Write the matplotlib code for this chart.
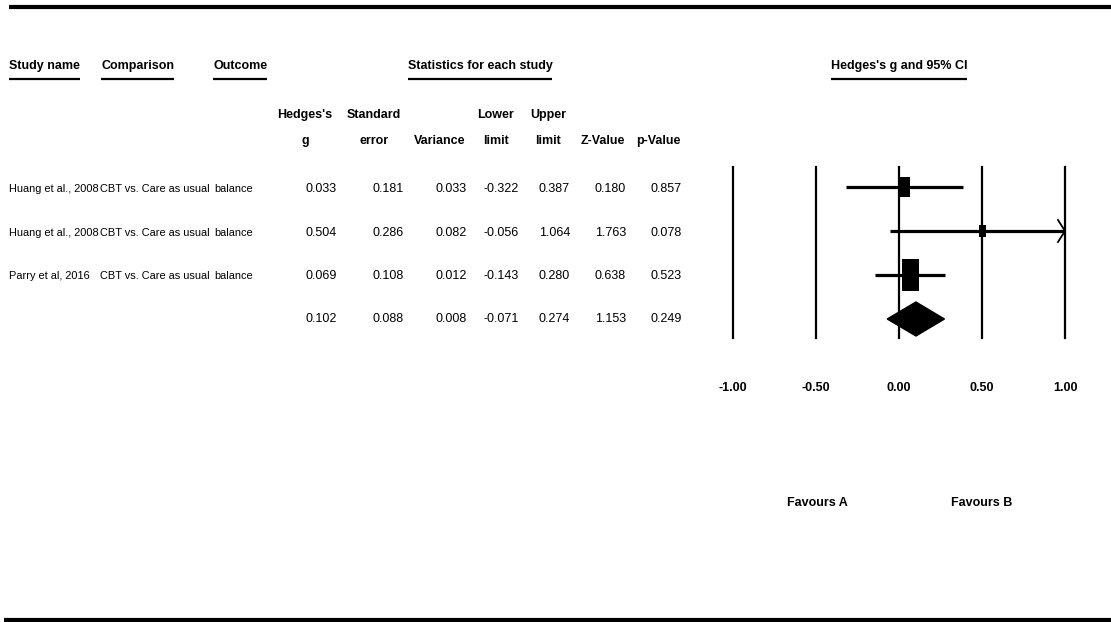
import matplotlib
matplotlib.use("Agg")
import matplotlib.pyplot as plt
from matplotlib import font_manager
from matplotlib.patches import Rectangle, Polygon
import numpy as np

# ---------------- data ----------------
study_names = ["Huang et al., 2008", "Huang et al., 2008", "Parry et al, 2016", ""]
comparisons = ["CBT vs. Care as usual", "CBT vs. Care as usual", "CBT vs. Care as usual", ""]
outcomes = ["balance", "balance", "balance", ""]
hedges_g = [0.033, 0.504, 0.069, 0.102]
std_err = [0.181, 0.286, 0.108, 0.088]
variance = [0.033, 0.082, 0.012, 0.008]
lower = [-0.322, -0.056, -0.143, -0.071]
upper = [0.387, 1.064, 0.280, 0.274]
z_value = [0.180, 1.763, 0.638, 1.153]
p_value = [0.857, 0.078, 0.523, 0.249]
x_ticks = [-1.0, -0.5, 0.0, 0.5, 1.0]
x_tick_labels = ["-1.00", "-0.50", "0.00", "0.50", "1.00"]
favours = ["Favours A", "Favours B"]

# ---------------- font ----------------
def pick_font(cands):
    for c in cands:
        try:
            font_manager.findfont(c, fallback_to_default=False)
            return c
        except Exception:
            pass
    return "DejaVu Sans"

FONT = pick_font(["Liberation Sans Narrow", "Arial Narrow", "Liberation Sans"])
plt.rcParams["font.family"] = [FONT, "DejaVu Sans"]
FS = 11 if "Narrow" in FONT else 9
FS_NAME = FS * 0.88

W, H = 1111, 622
fig = plt.figure(figsize=(W / 100, H / 100), dpi=100)

# overlay axes in pixel coordinates for table text
tx = fig.add_axes([0, 0, 1, 1])
tx.set_xlim(0, W)
tx.set_ylim(H, 0)
tx.axis("off")

# rules
tx.plot([9, W], [7, 7], color="black", lw=3, solid_capstyle="butt")
tx.plot([4, W], [620, 620], color="black", lw=3, solid_capstyle="butt")

underlined = []
def utext(x, y, s, ha="left"):
    t = tx.text(x, y, s, ha=ha, va="center", fontsize=FS, fontweight="bold")
    underlined.append(t)
    return t

utext(9, 66, "Study name")
utext(101, 66, "Comparison")
utext(213, 66, "Outcome")
utext(480, 66, "Statistics for each study", ha="center")
utext(899, 66, "Hedges's g and 95% CI", ha="center")

# column headers
col_right = [337, 404, 467, 519, 570, 626, 682]
head_centers = [305, 374, 440, 496, 548, 603, 658]
head_top = ["Hedges's", "Standard", "", "Lower", "Upper", "", ""]
head_bot = ["g", "error", "Variance", "limit", "limit", "Z-Value", "p-Value"]
for xc, t1, t2 in zip(head_centers, head_top, head_bot):
    if t1:
        tx.text(xc, 115, t1, ha="center", va="center", fontsize=FS, fontweight="bold")
    tx.text(xc, 141, t2, ha="center", va="center", fontsize=FS, fontweight="bold")

row_y = [189, 233, 276, 319]
cols = [hedges_g, std_err, variance, lower, upper, z_value, p_value]
for i, y in enumerate(row_y):
    tx.text(9, y, study_names[i], ha="left", va="center", fontsize=FS_NAME)
    tx.text(100, y, comparisons[i], ha="left", va="center", fontsize=FS_NAME)
    tx.text(214, y, outcomes[i], ha="left", va="center", fontsize=FS_NAME)
    for xr, col in zip(col_right, cols):
        tx.text(xr, y, f"{col[i]:.3f}", ha="right", va="center", fontsize=FS)

for xc, s in zip([817, 982], favours):
    tx.text(xc, 503, s, ha="center", va="center", fontsize=FS, fontweight="bold")

# ---------------- forest plot axes ----------------
x0_px, x1_px = 733, 1065
y_top_px, y_bot_px = 167, 338
row_px0, row_step = 187, 44.0
ax = fig.add_axes([x0_px / W, 1 - y_bot_px / H, (x1_px - x0_px) / W, (y_bot_px - y_top_px) / H])
ax.patch.set_alpha(0)
ax.set_xlim(-1, 1)
ylo = (y_top_px - row_px0) / row_step
yhi = (y_bot_px - row_px0) / row_step
ax.set_ylim(yhi, ylo)
for s in ax.spines.values():
    s.set_visible(False)
ax.set_yticks([])
ax.set_xticks(x_ticks)
ax.set_xticklabels(x_tick_labels, fontsize=FS, fontweight="bold")
ax.tick_params(axis="x", length=0, pad=32)
for t in x_ticks:
    ax.axvline(t, color="black", lw=1.6, zorder=1, clip_on=False)

px_x = 2.0 / (x1_px - x0_px)   # data units per pixel (x)
px_y = 1.0 / row_step          # data units per pixel (y)
n_st = 3
for i in range(n_st):
    lo = max(lower[i], -1.0)
    hi = min(upper[i], 1.0)
    ax.plot([lo, hi], [i, i], color="black", lw=2.3, solid_capstyle="butt", zorder=3)
    if upper[i] > 1.0:
        ax.plot([1.0 - 7 * px_x, 1.0, 1.0 - 7 * px_x], [i - 11 * px_y, i, i + 11 * px_y],
                color="black", lw=1.3, zorder=3, clip_on=False)
    w = 1.0 / variance[i]
    bw = 1.85 * np.sqrt(w)  # pixels
    bh = 1.9 * bw
    ax.add_patch(Rectangle((hedges_g[i] - bw / 2 * px_x, i - bh / 2 * px_y), bw * px_x, bh * px_y,
                           facecolor="black", edgecolor="black", lw=0, zorder=4))

# summary diamond
j = 3
dh = 17 * px_y
ax.add_patch(Polygon([[lower[j], j], [hedges_g[j], j - dh], [upper[j], j], [hedges_g[j], j + dh]],
                     closed=True, facecolor="black", edgecolor="black", lw=1, zorder=4))

# underlines for headers
fig.canvas.draw()
r = fig.canvas.get_renderer()
inv = tx.transData.inverted()
for t in underlined:
    bb = t.get_window_extent(renderer=r)
    (xa, _), (xb, _) = inv.transform([[bb.x0, bb.y0], [bb.x1, bb.y0]])
    tx.plot([xa, xb], [79, 79], color="black", lw=1.6, solid_capstyle="butt")

fig.savefig("out.png", dpi=100)
